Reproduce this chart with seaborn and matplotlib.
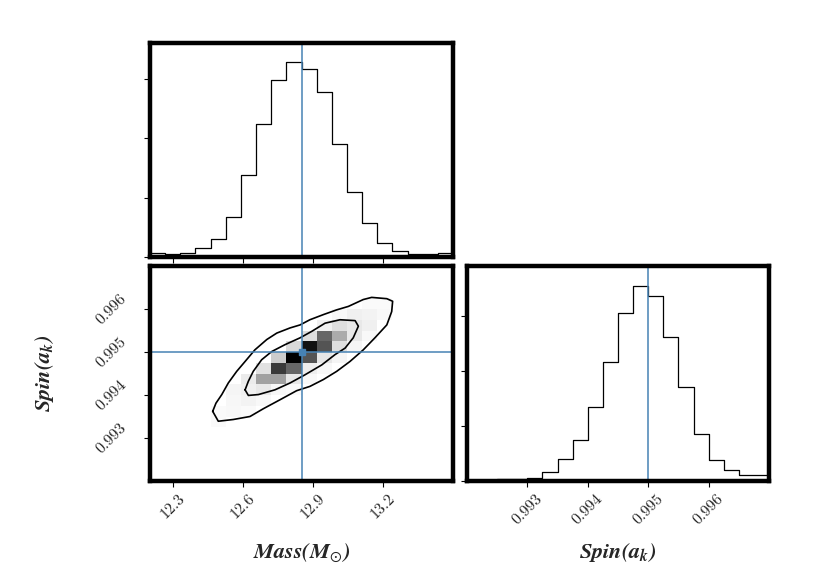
import numpy as np
import pandas as pd
import matplotlib
matplotlib.use("Agg")
import matplotlib.pyplot as plt
from matplotlib.colors import LinearSegmentedColormap
import seaborn as sns

# Диапазоны и число бинов
mass_range = (12.2, 13.5)
spin_range = (0.992, 0.997)
n_bins = 20

# Истинные значения (синие линии)
mass_true = 12.85
spin_true = 0.995

# Гистограмма массы (отсчёты по бинам)
mass_counts = [73, 56, 73, 157, 309, 674, 1388, 2242, 2972, 3275,
               3169, 2770, 1904, 1096, 573, 242, 96, 56, 45, 67]

# Гистограмма спина
spin_counts = [3, 8, 31, 43, 61, 159, 404, 740, 1352, 2165,
               3046, 3554, 3364, 2624, 1713, 856, 379, 196, 116, 116]

# Плотность 2D: строки сверху вниз (спин убывает), столбцы - масса
density = [
    [0] * 20,
    [0] * 20,
    [0] * 20,
    [0, 0, 0, 0, 0, 0, 0, 0, 0, 0, 0, 0, 0, 0, .02, .02, 0, 0, 0, 0],
    [0, 0, 0, 0, 0, 0, 0, 0, 0, 0, 0, 0, .03, .06, .05, .03, 0, 0, 0, 0],
    [0, 0, 0, 0, 0, 0, 0, 0, 0, 0, 0, .06, .13, .09, .06, 0, 0, 0, 0, 0],
    [0, 0, 0, 0, 0, 0, 0, 0, 0, 0, .13, .60, .33, .09, .03, 0, 0, 0, 0, 0],
    [0, 0, 0, 0, 0, 0, 0, 0, 0, .15, .93, .67, .13, .04, 0, 0, 0, 0, 0, 0],
    [0, 0, 0, 0, 0, 0, 0, 0, .20, 1.0, .67, .10, .04, 0, 0, 0, 0, 0, 0, 0],
    [0, 0, 0, 0, 0, 0, 0, .12, .77, .60, .07, .03, 0, 0, 0, 0, 0, 0, 0, 0],
    [0, 0, 0, 0, 0, 0, .08, .37, .37, .09, .03, 0, 0, 0, 0, 0, 0, 0, 0, 0],
    [0, 0, 0, 0, 0, .04, .06, .09, .035, .02, 0, 0, 0, 0, 0, 0, 0, 0, 0, 0],
    [0, 0, 0, 0, 0, .035, .05, .03, 0, 0, 0, 0, 0, 0, 0, 0, 0, 0, 0, 0],
    [0, 0, 0, 0, .02, .03, .02, 0, 0, 0, 0, 0, 0, 0, 0, 0, 0, 0, 0, 0],
    [0, 0, 0, 0, .02, 0, 0, 0, 0, 0, 0, 0, 0, 0, 0, 0, 0, 0, 0, 0],
    [0] * 20,
    [0] * 20,
    [0] * 20,
    [0] * 20,
    [0] * 20,
]

# Контуры (внешний и внутренний)
outer_mass = [12.469, 12.493, 12.557, 12.629, 12.686, 12.758, 12.829, 12.886,
              12.944, 13.001, 13.058, 13.115, 13.165, 13.216, 13.237, 13.241,
              13.216, 13.151, 13.115, 13.051, 13.001, 12.944, 12.886, 12.844,
              12.801, 12.744, 12.701, 12.650, 12.608, 12.572, 12.536, 12.508,
              12.483]
outer_spin = [0.99362, 0.99339, 0.99343, 0.99350, 0.99368, 0.99389, 0.99410,
              0.99420, 0.99436, 0.99455, 0.99478, 0.99505, 0.99533, 0.99563,
              0.99594, 0.99618, 0.99624, 0.99627, 0.99622, 0.99606, 0.99598,
              0.99587, 0.99575, 0.99563, 0.99556, 0.99544, 0.99529, 0.99505,
              0.99478, 0.99455, 0.99428, 0.99401, 0.99381]
inner_mass = [12.608, 12.622, 12.665, 12.736, 12.801, 12.865, 12.937, 12.994,
              13.037, 13.072, 13.094, 13.080, 13.015, 12.951, 12.894, 12.844,
              12.779, 12.722, 12.679, 12.643, 12.622]
inner_spin = [0.99412, 0.99399, 0.99401, 0.99412, 0.99428, 0.99447, 0.99470,
              0.99494, 0.99509, 0.99533, 0.99560, 0.99573, 0.99575, 0.99567,
              0.99548, 0.99533, 0.99517, 0.99501, 0.99482, 0.99455, 0.99432]

mass_ticks = [12.3, 12.6, 12.9, 13.2]
mass_labels = ["12.3", "12.6", "12.9", "13.2"]
spin_ticks = [0.993, 0.994, 0.995, 0.996]
spin_labels = ["0.993", "0.994", "0.995", "0.996"]
count_ticks = [0, 1000, 2000, 3000]

sns.set_style("white")
plt.rcParams["font.family"] = ["cmr10", "DejaVu Sans"]
plt.rcParams["mathtext.fontset"] = "cm"
plt.rcParams["axes.formatter.use_mathtext"] = True

mass_edges = np.linspace(*mass_range, n_bins + 1)
spin_edges = np.linspace(*spin_range, n_bins + 1)
mass_mid = (mass_edges[:-1] + mass_edges[1:]) / 2
spin_mid = (spin_edges[:-1] + spin_edges[1:]) / 2

truth_color = "#4682b4"
spine_w = 3.2

fig = plt.figure(figsize=(8.3, 5.88), dpi=100)
ax_top = fig.add_axes([150 / 830, 1 - 257 / 588, 303 / 830, 214 / 588])
ax_2d = fig.add_axes([150 / 830, 1 - 481 / 588, 303 / 830, 215 / 588])
ax_right = fig.add_axes([467 / 830, 1 - 481 / 588, 302 / 830, 215 / 588])

# Верхняя гистограмма - масса
df_m = pd.DataFrame({"mass": mass_mid, "n": mass_counts})
sns.histplot(data=df_m, x="mass", weights="n", bins=list(mass_edges),
             element="step", fill=False, color="black", linewidth=0.9, ax=ax_top)
ax_top.axvline(mass_true, color=truth_color, lw=1.1)
ax_top.set_xlim(mass_range)
ax_top.set_ylim(0, 1.1 * max(mass_counts))
ax_top.set_xticks(mass_ticks)
ax_top.set_xticklabels([])
ax_top.set_yticks(count_ticks)
ax_top.set_yticklabels([])

# Правая гистограмма - спин
df_s = pd.DataFrame({"spin": spin_mid, "n": spin_counts})
sns.histplot(data=df_s, x="spin", weights="n", bins=list(spin_edges),
             element="step", fill=False, color="black", linewidth=0.9, ax=ax_right)
ax_right.axvline(spin_true, color=truth_color, lw=1.1)
ax_right.set_xlim(spin_range)
ax_right.set_ylim(0, 1.1 * max(spin_counts))
ax_right.set_xticks(spin_ticks)
ax_right.set_xticklabels(spin_labels, rotation=45, ha="center")
ax_right.set_yticks(count_ticks)
ax_right.set_yticklabels([])

# 2D плотность
dens = pd.DataFrame(density[::-1], index=spin_mid, columns=mass_mid)
long = dens.stack().reset_index()
long.columns = ["spin", "mass", "w"]
long = long[long["w"] > 0]
cmap = LinearSegmentedColormap.from_list("wb", ["white", "black"])
sns.histplot(data=long, x="mass", y="spin", weights="w",
             bins=[list(mass_edges), list(spin_edges)], cmap=cmap, vmin=0, vmax=1,
             ax=ax_2d)
for cm_, cs_ in [(outer_mass, outer_spin), (inner_mass, inner_spin)]:
    sns.lineplot(x=cm_ + cm_[:1], y=cs_ + cs_[:1], sort=False, estimator=None,
                 color="black", linewidth=1.2, ax=ax_2d)
ax_2d.axvline(mass_true, color=truth_color, lw=1.1)
ax_2d.axhline(spin_true, color=truth_color, lw=1.1)
ax_2d.plot([mass_true], [spin_true], "s", color=truth_color, ms=4)
ax_2d.set_xlim(mass_range)
ax_2d.set_ylim(spin_range)
ax_2d.set_xticks(mass_ticks)
ax_2d.set_xticklabels(mass_labels, rotation=45, ha="center")
ax_2d.set_yticks(spin_ticks)
ax_2d.set_yticklabels(spin_labels, rotation=45, va="center")

label_kw = dict(fontsize=16, math_fontfamily="stix")
ax_2d.set_xlabel(r"$\mathbfit{Mass(M}_{\odot}\mathbfit{)}$", **label_kw)
ax_2d.set_ylabel(r"$\mathbfit{Spin(a_k)}$", **label_kw)
ax_right.set_xlabel(r"$\mathbfit{Spin(a_k)}$", **label_kw)
ax_top.set_xlabel("")
ax_top.set_ylabel("")
ax_right.set_ylabel("")
ax_2d.xaxis.set_label_coords(0.5, -0.28)
ax_right.xaxis.set_label_coords(0.5, -0.28)
ax_2d.yaxis.set_label_coords(-0.31, 0.5)

for ax in (ax_top, ax_2d, ax_right):
    for sp in ax.spines.values():
        sp.set_linewidth(spine_w)
        sp.set_color("black")
        sp.set_visible(True)
    ax.tick_params(axis="both", direction="out", length=4, width=0.8,
                   color="black", labelsize=11.5, bottom=True, left=True)
    ax.grid(False)
ax_2d.tick_params(axis="y", pad=11)

fig.savefig("out.png", dpi=100)
